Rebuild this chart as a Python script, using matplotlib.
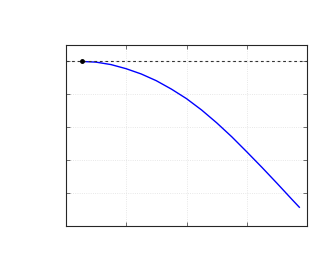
import matplotlib
matplotlib.use("Agg")
import matplotlib.pyplot as plt

# values
x_vals = [0.265, 0.5, 0.75, 1.0, 1.25, 1.5, 1.75, 2.0, 2.25, 2.5, 2.75, 3.0, 3.25, 3.5, 3.75, 3.868]
y_vals = [1.000, 0.996, 0.981, 0.956, 0.924, 0.883, 0.832, 0.774, 0.705, 0.627, 0.542, 0.450, 0.356, 0.259, 0.160, 0.114]
ref_level = 1.0
start_pt = (0.265, 1.0)
x_ticks = [0, 1, 2, 3, 4]
y_ticks = [0, 0.2, 0.4, 0.6, 0.8, 1.0]

fig = plt.figure(figsize=(3.34, 2.75), dpi=100)
ax = fig.add_axes([65.7 / 334, 49 / 275, 241.6 / 334, 181 / 275])

ax.plot(x_vals, y_vals, color="blue", lw=1.0)
ax.axhline(ref_level, color="#333333", ls=(0, (2.5, 2.5)), lw=0.8)
ax.plot([start_pt[0]], [start_pt[1]], "o", color="black", ms=2.5)

ax.set_xlim(0, 4)
ax.set_ylim(0, 1.1)
ax.set_xticks(x_ticks)
ax.set_yticks(y_ticks)
ax.set_xticklabels([])
ax.set_yticklabels([])
ax.grid(True, ls=":", color="#e0e0e0", lw=0.6)
ax.tick_params(direction="in", length=3, width=0.6, color="#555555",
               top=True, right=True)
for s in ax.spines.values():
    s.set_color("#262626")
    s.set_linewidth(0.8)

fig.savefig("out.png", dpi=100)
